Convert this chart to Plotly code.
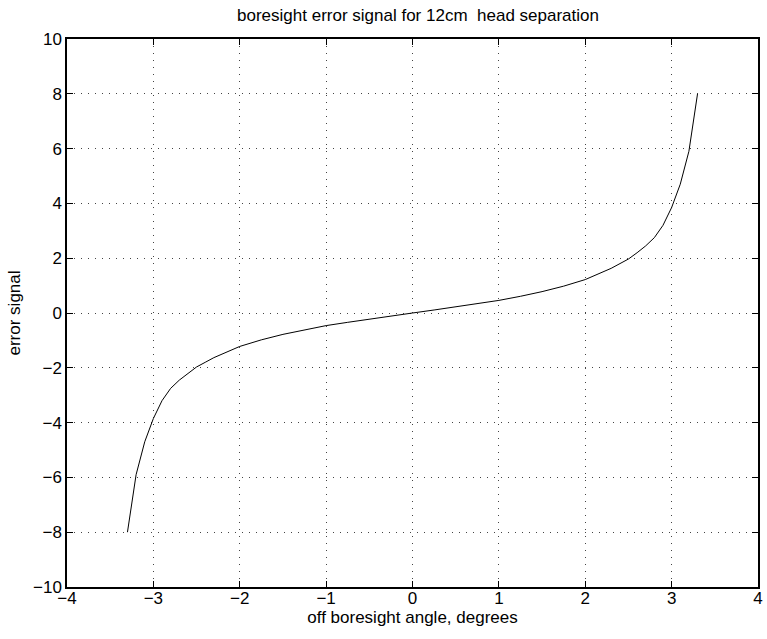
import plotly.graph_objects as go

angle_deg = [-3.3, -3.2, -3.1, -3.0, -2.9, -2.8, -2.7, -2.6, -2.5, -2.4, -2.3, -2.0, -1.75, -1.5, -1.25, -1.0,
             -0.75, -0.5, -0.25, 0.0,
             0.25, 0.5, 0.75, 1.0, 1.25, 1.5, 1.75, 2.0, 2.3, 2.4, 2.5, 2.6, 2.7, 2.8, 2.9, 3.0, 3.1, 3.2, 3.3]
error_signal = [-8.0, -5.9, -4.7, -3.85, -3.2, -2.75, -2.45, -2.2, -1.97, -1.8, -1.63, -1.22, -0.98, -0.78, -0.61, -0.46,
                -0.34, -0.22, -0.11, 0.0,
                0.11, 0.22, 0.34, 0.46, 0.61, 0.78, 0.98, 1.22, 1.63, 1.8, 1.97, 2.2, 2.45, 2.75, 3.2, 3.85, 4.7, 5.9, 8.0]

x_ticks = [-4, -3, -2, -1, 0, 1, 2, 3, 4]
y_ticks = [-10, -8, -6, -4, -2, 0, 2, 4, 6, 8, 10]

font = dict(family="Liberation Sans, Arial, sans-serif", size=17, color="black")

fig = go.Figure()
fig.add_trace(go.Scatter(x=angle_deg, y=error_signal, mode="lines",
                         line=dict(color="black", width=1),
                         showlegend=False, hoverinfo="skip"))

axis_common = dict(showline=True, linecolor="black", linewidth=1.5, mirror="ticks",
                   ticks="inside", ticklen=6, tickcolor="black", tickwidth=1,
                   showgrid=True, gridcolor="#444444", griddash="1px,6px", gridwidth=1,
                   zeroline=False, tickfont=font)

fig.update_xaxes(range=[-4, 4], tickvals=x_ticks,
                 title=dict(text="off boresight angle, degrees", font=font, standoff=2),
                 ticklabelstandoff=-5, **axis_common)
fig.update_yaxes(range=[-10, 10], tickvals=y_ticks,
                 title=dict(text="error signal", font=font, standoff=8),
                 **axis_common)

fig.update_layout(
    width=767, height=639,
    margin=dict(l=67, r=4, t=39, b=52),
    paper_bgcolor="white", plot_bgcolor="white",
    font=font,
    title=dict(text="boresight error signal for 12cm\u00a0 head separation", font=font,
               x=0.545, xanchor="center", y=0.976, yanchor="middle"),
)

fig.write_html("out.html")
